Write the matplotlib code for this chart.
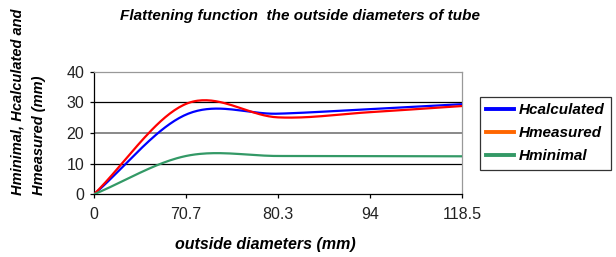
import numpy as np
import matplotlib
matplotlib.use("Agg")
import matplotlib.pyplot as plt
from matplotlib.lines import Line2D

categories = ["0", "70.7", "80.3", "94", "118.5"]
h_calculated = [0.0, 26.0, 26.3, 27.8, 29.4]
h_measured = [0.0, 29.5, 25.1, 26.8, 28.8]
h_minimal = [0.0, 12.5, 12.5, 12.4, 12.4]

series_names = ["Hcalculated", "Hmeasured", "Hminimal"]
line_colors = ["#0000FF", "#FF0000", "#339966"]
legend_colors = ["#0000FF", "#FF6600", "#339966"]


def smooth(y, n=40):
    """Catmull-Rom style smoothing (like a spreadsheet 'smoothed line')."""
    y = np.asarray(y, float)
    x = np.arange(len(y), dtype=float)
    m = np.empty_like(y)
    m[1:-1] = (y[2:] - y[:-2]) / 2.0
    m[0] = y[1] - y[0]
    m[-1] = y[-1] - y[-2]
    xs, ys = [], []
    for i in range(len(y) - 1):
        t = np.linspace(0, 1, n, endpoint=(i == len(y) - 2))
        h00 = 2 * t**3 - 3 * t**2 + 1
        h10 = t**3 - 2 * t**2 + t
        h01 = -2 * t**3 + 3 * t**2
        h11 = t**3 - t**2
        xs.append(x[i] + t)
        ys.append(h00 * y[i] + h10 * m[i] + h01 * y[i + 1] + h11 * m[i + 1])
    return np.concatenate(xs), np.concatenate(ys)


fig = plt.figure(figsize=(6.16, 2.57), dpi=100)
ax = fig.add_axes([94 / 616, 1 - 194.3 / 257, (462 - 94) / 616, (194.3 - 71.7) / 257])

for vals, c in zip([h_calculated, h_measured, h_minimal], line_colors):
    xs, ys = smooth(vals)
    ax.plot(xs, ys, color=c, lw=1.6, zorder=3, solid_capstyle="butt")

ax.set_xlim(0, len(categories) - 1)
ax.set_ylim(0, 40)
ax.set_xticks(range(len(categories)))
ax.set_xticklabels(categories)
ax.set_yticks([0, 10, 20, 30, 40])

for yv in [10, 30]:
    ax.axhline(yv, color="black", lw=0.9, zorder=1)
ax.axhline(20, color="#808080", lw=1.3, zorder=1)

ax.spines["top"].set_color("#999999")
ax.spines["right"].set_color("#999999")
ax.spines["left"].set_color("black")
ax.spines["bottom"].set_color("black")
for s in ax.spines.values():
    s.set_linewidth(0.9)

ax.tick_params(axis="both", direction="out", length=3, width=0.9,
               labelsize=11.5, colors="black", pad=4)
ax.tick_params(axis="x", pad=6)
for lab in ax.get_xticklabels() + ax.get_yticklabels():
    lab.set_fontfamily("Liberation Sans")
    lab.set_color("#222222")

bi = dict(family="Liberation Sans", weight="bold", style="italic")
fig.text(300 / 616, 1 - 16 / 257, "Flattening function  the outside diameters of tube",
         ha="center", va="center", fontsize=11, **bi)
fig.text(265 / 616, 1 - 244 / 257, "outside diameters (mm)", ha="center",
         va="center", fontsize=11.5, **bi)
fig.text(28 / 616, 1 - 102 / 257, "Hminimal, Hcalculated and\nHmeasured (mm)",
         rotation=90, ha="center", va="center", multialignment="left",
         fontsize=10.5, linespacing=1.7, **bi)

handles = [Line2D([0], [0], color=c, lw=2.8) for c in legend_colors]
leg = fig.legend(handles, series_names, loc="upper left",
                 bbox_to_anchor=(480 / 616, 1 - 97 / 257),
                 frameon=True, fancybox=False, handlelength=1.8,
                 handletextpad=0.35, borderpad=0.4, borderaxespad=0,
                 labelspacing=0.6,
                 prop=dict(family="Liberation Sans", weight="bold",
                           style="italic", size=11))
leg.get_frame().set_edgecolor("black")
leg.get_frame().set_linewidth(0.9)

fig.savefig("out.png", dpi=100)
